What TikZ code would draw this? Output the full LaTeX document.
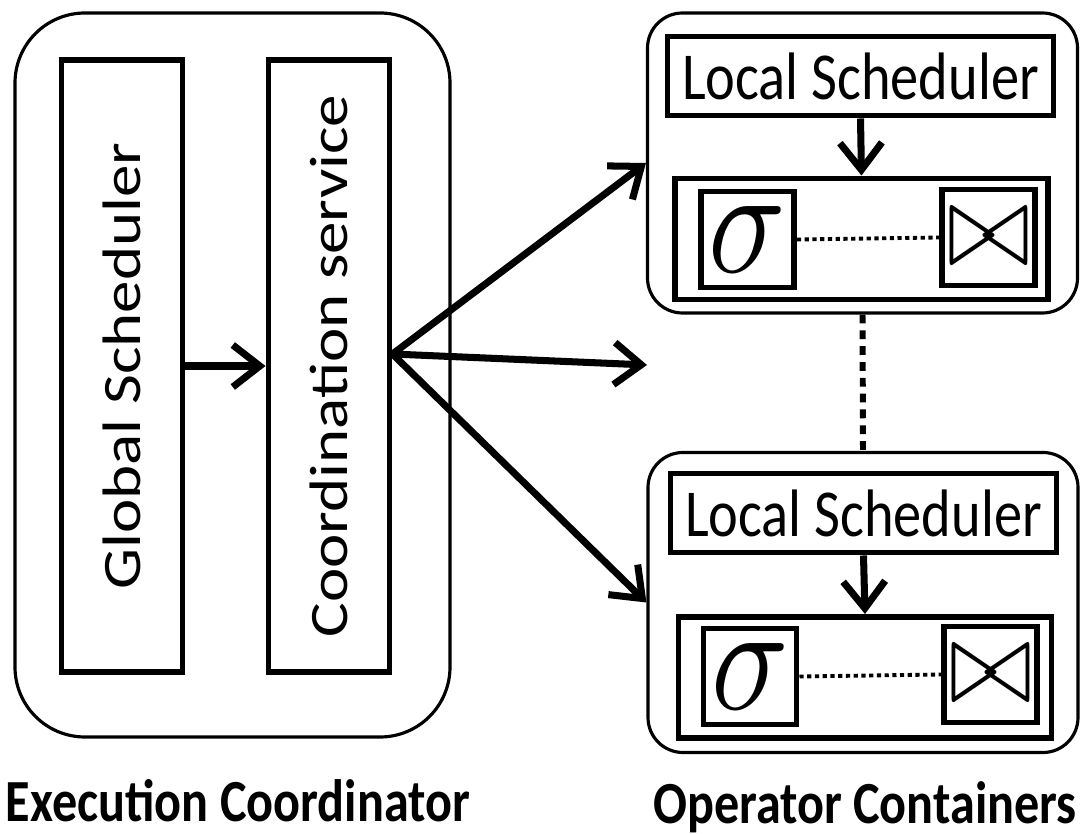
\documentclass[tikz,border=0pt]{standalone}
\usepackage{fontspec}
\usepackage{graphicx}
\usetikzlibrary{arrows.meta,positioning,calc}
\setmainfont{Carlito}
\newfontfamily\boxfont{Carlito}[FakeStretch=0.84]
\newfontfamily\sidefont{Carlito}[FakeStretch=1.2]

\begin{document}
\begin{tikzpicture}[
    outerbox/.style={draw,line width=0.9pt,rounded corners=0.35cm,
                     minimum width=4.30cm,minimum height=3.00cm},
    thickbox/.style={draw,line width=1.7pt,inner sep=0pt},
    sidebox/.style={thickbox,rotate=90,minimum width=6.12cm,
                    minimum height=1.21cm,
                    font=\sidefont\fontsize{15.4}{15.4}\selectfont},
    lsbox/.style={thickbox,minimum width=3.86cm,minimum height=0.79cm,
                  font=\boxfont\fontsize{19.1}{19.1}\selectfont},
    opbox/.style={thickbox,minimum width=3.73cm,minimum height=1.21cm},
    symbox/.style={thickbox,minimum width=0.93cm,minimum height=0.96cm},
    flow/.style={-{Straight Barb[length=0.27cm,width=0.42cm]},line width=2pt},
    caption/.style={font=\boxfont\bfseries\fontsize{17}{17}\selectfont}]

    \useasboundingbox (0,0) rectangle (10.85,8.34);

    % ── EXECUTION COORDINATOR ─────────────────────────────
    \node[outerbox,rounded corners=0.7cm,minimum width=4.35cm,
          minimum height=7.24cm] (exec) at (2.325,4.59) {};
    \node[sidebox] (gsched) at (1.22,4.68) {Global Scheduler};
    \node[sidebox] (coord) at (3.29,4.68) {Coordination service};
    % rotated boxes: south faces right, north faces left
    \draw[flow] (gsched.south) -- (coord.north);
    \node[caption] (execlabel) at (2.38,0.33) {Execution Coordinator};

    % ── OPERATOR CONTAINER 1 ──────────────────────────────
    \node[outerbox] (cont1) at (8.625,6.71) {};
    \node[lsbox] (lsched1) at (8.605,7.58) {Local Scheduler};
    \node[opbox] (ops1) at (8.615,5.95) {};
    \node[symbox,font=\fontsize{31}{31}\selectfont] (sig1) at (7.475,5.945)
      {\scalebox{1.5}[1.75]{$\sigma$}};
    \node[symbox,font=\fontsize{22}{22}\selectfont] (join1) at (9.885,5.965)
      {\scalebox{1.4}[1.65]{$\bowtie$}};
    \draw[flow] (lsched1.south) -- (ops1.north);
    \draw[line width=1.1pt,dash pattern=on 1.2pt off 1pt] (sig1.east) -- (join1.west);

    % ── OPERATOR CONTAINER 2 ──────────────────────────────
    \node[outerbox] (cont2) at (8.63,2.315) {};
    \node[lsbox] (lsched2) at (8.635,3.21) {Local Scheduler};
    \node[opbox] (ops2) at (8.65,1.565) {};
    \node[symbox,font=\fontsize{31}{31}\selectfont] (sig2) at (7.50,1.575)
      {\scalebox{1.5}[1.75]{$\sigma$}};
    \node[symbox,font=\fontsize{22}{22}\selectfont] (join2) at (9.905,1.595)
      {\scalebox{1.4}[1.65]{$\bowtie$}};
    \draw[flow] (lsched2.south) -- (ops2.north);
    \draw[line width=1.1pt,dash pattern=on 1.2pt off 1pt] (sig2.east) -- (join2.west);

    % more containers in between
    \draw[line width=1.7pt,dash pattern=on 2.5pt off 2pt] (cont1.south) -- (cont2.north);
    \node[caption] (contlabel) at (8.65,0.27) {Operator Containers};

    % fan out from the coordination service
    \coordinate (fan) at ($(coord.south)+(0,0.12)$);
    \coordinate (mid) at (6.47,4.69);
    \draw[flow] (fan) -- (cont1.west);
    \draw[flow] (fan) -- (mid);
    \draw[flow] (fan) -- (cont2.west);

\end{tikzpicture}
\end{document}
